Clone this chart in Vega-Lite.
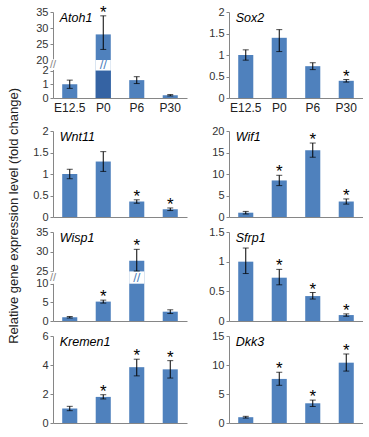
{
  "$schema": "https://vega.github.io/schema/vega-lite/v6.json",
  "padding": {"left": 7, "top": 3, "right": 0, "bottom": 0},
  "title": {"text": "Relative gene expression level (fold change)", "orient": "left", "anchor": "middle", "fontSize": 13, "fontWeight": "normal", "font": "Liberation Sans", "color": "#222222", "offset": 2},
  "data": {"values": [
    {"gene": "Atoh1", "stage": "E12.5", "value": 1.0, "lo": 0.7, "hi": 1.3, "sig": false},
    {"gene": "Atoh1", "stage": "P0", "value": 28.0, "lo": 23.3, "hi": 33.8, "sig": true},
    {"gene": "Atoh1", "stage": "P6", "value": 1.3, "lo": 1.05, "hi": 1.55, "sig": false},
    {"gene": "Atoh1", "stage": "P30", "value": 0.2, "lo": 0.15, "hi": 0.25, "sig": false},
    {"gene": "Sox2", "stage": "E12.5", "value": 1.0, "lo": 0.88, "hi": 1.12, "sig": false},
    {"gene": "Sox2", "stage": "P0", "value": 1.4, "lo": 1.08, "hi": 1.59, "sig": false},
    {"gene": "Sox2", "stage": "P6", "value": 0.74, "lo": 0.66, "hi": 0.82, "sig": false},
    {"gene": "Sox2", "stage": "P30", "value": 0.4, "lo": 0.37, "hi": 0.43, "sig": true},
    {"gene": "Wnt11", "stage": "E12.5", "value": 1.0, "lo": 0.89, "hi": 1.11, "sig": false},
    {"gene": "Wnt11", "stage": "P0", "value": 1.29, "lo": 1.06, "hi": 1.52, "sig": false},
    {"gene": "Wnt11", "stage": "P6", "value": 0.36, "lo": 0.32, "hi": 0.4, "sig": true},
    {"gene": "Wnt11", "stage": "P30", "value": 0.18, "lo": 0.15, "hi": 0.21, "sig": true},
    {"gene": "Wif1", "stage": "E12.5", "value": 1.0, "lo": 0.7, "hi": 1.3, "sig": false},
    {"gene": "Wif1", "stage": "P0", "value": 8.5, "lo": 7.3, "hi": 9.7, "sig": true},
    {"gene": "Wif1", "stage": "P6", "value": 15.5, "lo": 13.9, "hi": 17.2, "sig": true},
    {"gene": "Wif1", "stage": "P30", "value": 3.6, "lo": 3.0, "hi": 4.2, "sig": true},
    {"gene": "Wisp1", "stage": "E12.5", "value": 1.0, "lo": 0.8, "hi": 1.2, "sig": false},
    {"gene": "Wisp1", "stage": "P0", "value": 5.2, "lo": 4.8, "hi": 5.6, "sig": true},
    {"gene": "Wisp1", "stage": "P6", "value": 27.7, "lo": 25.1, "hi": 30.6, "sig": true},
    {"gene": "Wisp1", "stage": "P30", "value": 2.5, "lo": 2.0, "hi": 3.0, "sig": false},
    {"gene": "Sfrp1", "stage": "E12.5", "value": 1.0, "lo": 0.8, "hi": 1.23, "sig": false},
    {"gene": "Sfrp1", "stage": "P0", "value": 0.73, "lo": 0.61, "hi": 0.87, "sig": true},
    {"gene": "Sfrp1", "stage": "P6", "value": 0.42, "lo": 0.37, "hi": 0.48, "sig": true},
    {"gene": "Sfrp1", "stage": "P30", "value": 0.1, "lo": 0.08, "hi": 0.12, "sig": true},
    {"gene": "Kremen1", "stage": "E12.5", "value": 1.0, "lo": 0.85, "hi": 1.15, "sig": false},
    {"gene": "Kremen1", "stage": "P0", "value": 1.8, "lo": 1.66, "hi": 1.95, "sig": true},
    {"gene": "Kremen1", "stage": "P6", "value": 3.85, "lo": 3.25, "hi": 4.4, "sig": true},
    {"gene": "Kremen1", "stage": "P30", "value": 3.7, "lo": 3.1, "hi": 4.3, "sig": true},
    {"gene": "Dkk3", "stage": "E12.5", "value": 1.0, "lo": 0.85, "hi": 1.15, "sig": false},
    {"gene": "Dkk3", "stage": "P0", "value": 7.6, "lo": 6.5, "hi": 8.75, "sig": true},
    {"gene": "Dkk3", "stage": "P6", "value": 3.4, "lo": 2.85, "hi": 3.95, "sig": true},
    {"gene": "Dkk3", "stage": "P30", "value": 10.4, "lo": 8.95, "hi": 11.9, "sig": true}
  ]},
  "columns": 2,
  "align": "each",
  "spacing": {"row": 4, "column": 12},
  "concat": [
    {
      "width": 134, "height": 86,
      "transform": [{"filter": "datum.gene === 'Atoh1'"}],
      "encoding": {"x": {"field": "stage", "type": "nominal", "title": null, "scale": {"domain": ["E12.5", "P0", "P6", "P30"], "paddingInner": 0.55, "paddingOuter": 0.275}, "axis": {"labels": true, "minExtent": 22.5}}},
      "layer": [
        {"mark": {"type": "bar", "color": "#4f81bd"}, "encoding": {"y": {"field": "value", "type": "quantitative", "title": null, "scale": {"domain": [0, 2, 20, 35], "range": [86, 58.5, 48, 0], "nice": false, "zero": false}, "axis": {"values": [0, 1, 2, 20, 25, 30, 35], "tickCount": 50, "labelOverlap": false, "format": ".1~f"}}}},
        {"transform": [{"filter": "datum.stage === 'P0'"}], "mark": {"type": "bar", "color": "#3563a3"}, "encoding": {"y": {"datum": 0}, "y2": {"datum": 2}}},
        {"transform": [{"filter": "datum.stage === 'P0'"}], "mark": {"type": "bar", "color": "white"}, "encoding": {"y": {"datum": 2}, "y2": {"datum": 20}}},
        {"transform": [{"filter": "datum.stage === 'P0'"}], "mark": {"type": "text", "text": "//", "fontSize": 13, "color": "#4f81bd", "baseline": "middle"}, "encoding": {"y": {"datum": 11}}},
        {"transform": [{"filter": "datum.stage === 'E12.5'"}], "mark": {"type": "text", "text": "█", "font": "DejaVu Sans", "fontSize": 9, "color": "white", "baseline": "middle", "dx": -16.75}, "encoding": {"y": {"datum": 11}}},
        {"transform": [{"filter": "datum.stage === 'E12.5'"}], "mark": {"type": "text", "text": "//", "fontSize": 11, "color": "#868686", "baseline": "middle", "dx": -16.75}, "encoding": {"y": {"datum": 11}}},
        {"mark": {"type": "errorbar", "color": "black", "ticks": {"size": 6}}, "encoding": {"y": {"field": "lo", "type": "quantitative", "title": null}, "y2": {"field": "hi"}}},
        {"transform": [{"filter": "datum.sig"}], "mark": {"type": "text", "text": "*", "fontSize": 17, "baseline": "alphabetic", "dy": 2, "color": "black"}, "encoding": {"y": {"field": "hi", "type": "quantitative", "title": null}}},
        {"transform": [{"filter": "datum.stage === 'E12.5'"}], "mark": {"type": "text", "text": "Atoh1", "align": "left", "baseline": "top", "fontStyle": "italic", "fontSize": 12.5, "dx": -10, "color": "black"}, "encoding": {"y": {"datum": 35}}}
      ]
    },
    {
      "width": 134, "height": 86,
      "transform": [{"filter": "datum.gene === 'Sox2'"}],
      "encoding": {"x": {"field": "stage", "type": "nominal", "title": null, "scale": {"domain": ["E12.5", "P0", "P6", "P30"], "paddingInner": 0.55, "paddingOuter": 0.275}, "axis": {"labels": true, "minExtent": 22.5}}},
      "layer": [
        {"mark": {"type": "bar", "color": "#4f81bd"}, "encoding": {"y": {"field": "value", "type": "quantitative", "title": null, "scale": {"domain": [0, 2], "nice": false}, "axis": {"values": [0, 0.5, 1, 1.5, 2], "tickCount": 50, "labelOverlap": false, "format": ".1~f"}}}},
        {"mark": {"type": "errorbar", "color": "black", "ticks": {"size": 6}}, "encoding": {"y": {"field": "lo", "type": "quantitative", "title": null}, "y2": {"field": "hi"}}},
        {"transform": [{"filter": "datum.sig"}], "mark": {"type": "text", "text": "*", "fontSize": 17, "baseline": "alphabetic", "dy": 2, "color": "black"}, "encoding": {"y": {"field": "hi", "type": "quantitative", "title": null}}},
        {"transform": [{"filter": "datum.stage === 'E12.5'"}], "mark": {"type": "text", "text": "Sox2", "align": "left", "baseline": "top", "fontStyle": "italic", "fontSize": 12.5, "dx": -10, "color": "black"}, "encoding": {"y": {"datum": 2}}}
      ]
    },
    {
      "width": 134, "height": 86,
      "transform": [{"filter": "datum.gene === 'Wnt11'"}],
      "encoding": {"x": {"field": "stage", "type": "nominal", "title": null, "scale": {"domain": ["E12.5", "P0", "P6", "P30"], "paddingInner": 0.55, "paddingOuter": 0.275}, "axis": {"labels": false, "minExtent": 0, "maxExtent": 0}}},
      "layer": [
        {"mark": {"type": "bar", "color": "#4f81bd"}, "encoding": {"y": {"field": "value", "type": "quantitative", "title": null, "scale": {"domain": [0, 2], "nice": false}, "axis": {"values": [0, 0.5, 1, 1.5, 2], "tickCount": 50, "labelOverlap": false, "format": ".1~f"}}}},
        {"mark": {"type": "errorbar", "color": "black", "ticks": {"size": 6}}, "encoding": {"y": {"field": "lo", "type": "quantitative", "title": null}, "y2": {"field": "hi"}}},
        {"transform": [{"filter": "datum.sig"}], "mark": {"type": "text", "text": "*", "fontSize": 17, "baseline": "alphabetic", "dy": 2, "color": "black"}, "encoding": {"y": {"field": "hi", "type": "quantitative", "title": null}}},
        {"transform": [{"filter": "datum.stage === 'E12.5'"}], "mark": {"type": "text", "text": "Wnt11", "align": "left", "baseline": "top", "fontStyle": "italic", "fontSize": 12.5, "dx": -10, "color": "black"}, "encoding": {"y": {"datum": 2}}}
      ]
    },
    {
      "width": 134, "height": 86,
      "transform": [{"filter": "datum.gene === 'Wif1'"}],
      "encoding": {"x": {"field": "stage", "type": "nominal", "title": null, "scale": {"domain": ["E12.5", "P0", "P6", "P30"], "paddingInner": 0.55, "paddingOuter": 0.275}, "axis": {"labels": false, "minExtent": 0, "maxExtent": 0}}},
      "layer": [
        {"mark": {"type": "bar", "color": "#4f81bd"}, "encoding": {"y": {"field": "value", "type": "quantitative", "title": null, "scale": {"domain": [0, 20], "nice": false}, "axis": {"values": [0, 5, 10, 15, 20], "tickCount": 50, "labelOverlap": false, "format": ".1~f"}}}},
        {"mark": {"type": "errorbar", "color": "black", "ticks": {"size": 6}}, "encoding": {"y": {"field": "lo", "type": "quantitative", "title": null}, "y2": {"field": "hi"}}},
        {"transform": [{"filter": "datum.sig"}], "mark": {"type": "text", "text": "*", "fontSize": 17, "baseline": "alphabetic", "dy": 2, "color": "black"}, "encoding": {"y": {"field": "hi", "type": "quantitative", "title": null}}},
        {"transform": [{"filter": "datum.stage === 'E12.5'"}], "mark": {"type": "text", "text": "Wif1", "align": "left", "baseline": "top", "fontStyle": "italic", "fontSize": 12.5, "dx": -10, "color": "black"}, "encoding": {"y": {"datum": 20}}}
      ]
    },
    {
      "width": 134, "height": 89,
      "transform": [{"filter": "datum.gene === 'Wisp1'"}],
      "encoding": {"x": {"field": "stage", "type": "nominal", "title": null, "scale": {"domain": ["E12.5", "P0", "P6", "P30"], "paddingInner": 0.55, "paddingOuter": 0.275}, "axis": {"labels": false, "minExtent": 0, "maxExtent": 0}}},
      "layer": [
        {"mark": {"type": "bar", "color": "#4f81bd"}, "encoding": {"y": {"field": "value", "type": "quantitative", "title": null, "scale": {"domain": [0, 10, 25, 35], "range": [89, 51.7, 39.4, 0], "nice": false, "zero": false}, "axis": {"values": [0, 5, 10, 25, 30, 35], "tickCount": 50, "labelOverlap": false, "format": ".1~f"}}}},
        {"transform": [{"filter": "datum.stage === 'P6'"}], "mark": {"type": "bar", "color": "white"}, "encoding": {"y": {"datum": 10}, "y2": {"datum": 25}}},
        {"transform": [{"filter": "datum.stage === 'P6'"}], "mark": {"type": "text", "text": "//", "fontSize": 13, "color": "#4f81bd", "baseline": "middle"}, "encoding": {"y": {"datum": 17.5}}},
        {"transform": [{"filter": "datum.stage === 'E12.5'"}], "mark": {"type": "text", "text": "█", "font": "DejaVu Sans", "fontSize": 10, "color": "white", "baseline": "middle", "dx": -16.75}, "encoding": {"y": {"datum": 17.5}}},
        {"transform": [{"filter": "datum.stage === 'E12.5'"}], "mark": {"type": "text", "text": "//", "fontSize": 11, "color": "#868686", "baseline": "middle", "dx": -16.75}, "encoding": {"y": {"datum": 17.5}}},
        {"mark": {"type": "errorbar", "color": "black", "ticks": {"size": 6}}, "encoding": {"y": {"field": "lo", "type": "quantitative", "title": null}, "y2": {"field": "hi"}}},
        {"transform": [{"filter": "datum.sig"}], "mark": {"type": "text", "text": "*", "fontSize": 17, "baseline": "alphabetic", "dy": 2, "color": "black"}, "encoding": {"y": {"field": "hi", "type": "quantitative", "title": null}}},
        {"transform": [{"filter": "datum.stage === 'E12.5'"}], "mark": {"type": "text", "text": "Wisp1", "align": "left", "baseline": "top", "fontStyle": "italic", "fontSize": 12.5, "dx": -10, "color": "black"}, "encoding": {"y": {"datum": 35}}}
      ]
    },
    {
      "width": 134, "height": 89,
      "transform": [{"filter": "datum.gene === 'Sfrp1'"}],
      "encoding": {"x": {"field": "stage", "type": "nominal", "title": null, "scale": {"domain": ["E12.5", "P0", "P6", "P30"], "paddingInner": 0.55, "paddingOuter": 0.275}, "axis": {"labels": false, "minExtent": 0, "maxExtent": 0}}},
      "layer": [
        {"mark": {"type": "bar", "color": "#4f81bd"}, "encoding": {"y": {"field": "value", "type": "quantitative", "title": null, "scale": {"domain": [0, 1.5], "nice": false}, "axis": {"values": [0, 0.5, 1, 1.5], "tickCount": 50, "labelOverlap": false, "format": ".1~f"}}}},
        {"mark": {"type": "errorbar", "color": "black", "ticks": {"size": 6}}, "encoding": {"y": {"field": "lo", "type": "quantitative", "title": null}, "y2": {"field": "hi"}}},
        {"transform": [{"filter": "datum.sig"}], "mark": {"type": "text", "text": "*", "fontSize": 17, "baseline": "alphabetic", "dy": 2, "color": "black"}, "encoding": {"y": {"field": "hi", "type": "quantitative", "title": null}}},
        {"transform": [{"filter": "datum.stage === 'E12.5'"}], "mark": {"type": "text", "text": "Sfrp1", "align": "left", "baseline": "top", "fontStyle": "italic", "fontSize": 12.5, "dx": -10, "color": "black"}, "encoding": {"y": {"datum": 1.5}}}
      ]
    },
    {
      "width": 134, "height": 87,
      "transform": [{"filter": "datum.gene === 'Kremen1'"}],
      "encoding": {"x": {"field": "stage", "type": "nominal", "title": null, "scale": {"domain": ["E12.5", "P0", "P6", "P30"], "paddingInner": 0.55, "paddingOuter": 0.275}, "axis": {"labels": false, "minExtent": 0, "maxExtent": 0}}},
      "layer": [
        {"mark": {"type": "bar", "color": "#4f81bd"}, "encoding": {"y": {"field": "value", "type": "quantitative", "title": null, "scale": {"domain": [0, 6], "nice": false}, "axis": {"values": [0, 2, 4, 6], "tickCount": 50, "labelOverlap": false, "format": ".1~f"}}}},
        {"mark": {"type": "errorbar", "color": "black", "ticks": {"size": 6}}, "encoding": {"y": {"field": "lo", "type": "quantitative", "title": null}, "y2": {"field": "hi"}}},
        {"transform": [{"filter": "datum.sig"}], "mark": {"type": "text", "text": "*", "fontSize": 17, "baseline": "alphabetic", "dy": 2, "color": "black"}, "encoding": {"y": {"field": "hi", "type": "quantitative", "title": null}}},
        {"transform": [{"filter": "datum.stage === 'E12.5'"}], "mark": {"type": "text", "text": "Kremen1", "align": "left", "baseline": "top", "fontStyle": "italic", "fontSize": 12.5, "dx": -10, "color": "black"}, "encoding": {"y": {"datum": 6}}}
      ]
    },
    {
      "width": 134, "height": 87,
      "transform": [{"filter": "datum.gene === 'Dkk3'"}],
      "encoding": {"x": {"field": "stage", "type": "nominal", "title": null, "scale": {"domain": ["E12.5", "P0", "P6", "P30"], "paddingInner": 0.55, "paddingOuter": 0.275}, "axis": {"labels": false, "minExtent": 0, "maxExtent": 0}}},
      "layer": [
        {"mark": {"type": "bar", "color": "#4f81bd"}, "encoding": {"y": {"field": "value", "type": "quantitative", "title": null, "scale": {"domain": [0, 15], "nice": false}, "axis": {"values": [0, 5, 10, 15], "tickCount": 50, "labelOverlap": false, "format": ".1~f"}}}},
        {"mark": {"type": "errorbar", "color": "black", "ticks": {"size": 6}}, "encoding": {"y": {"field": "lo", "type": "quantitative", "title": null}, "y2": {"field": "hi"}}},
        {"transform": [{"filter": "datum.sig"}], "mark": {"type": "text", "text": "*", "fontSize": 17, "baseline": "alphabetic", "dy": 2, "color": "black"}, "encoding": {"y": {"field": "hi", "type": "quantitative", "title": null}}},
        {"transform": [{"filter": "datum.stage === 'E12.5'"}], "mark": {"type": "text", "text": "Dkk3", "align": "left", "baseline": "top", "fontStyle": "italic", "fontSize": 12.5, "dx": -10, "color": "black"}, "encoding": {"y": {"datum": 15}}}
      ]
    }
  ],
  "config": {
    "view": {"stroke": null},
    "axis": {"grid": false, "domainColor": "#868686", "tickColor": "#868686", "labelColor": "#333333", "labelFont": "Liberation Sans", "labelFontSize": 11},
    "axisX": {"ticks": false, "labelPadding": 4, "labelFontSize": 12, "labelAngle": 0, "labelColor": "#222222"},
    "axisY": {"tickSize": 3, "labelPadding": 2, "minExtent": 30, "maxExtent": 30},
    "text": {"font": "Liberation Sans"}
  }
}
